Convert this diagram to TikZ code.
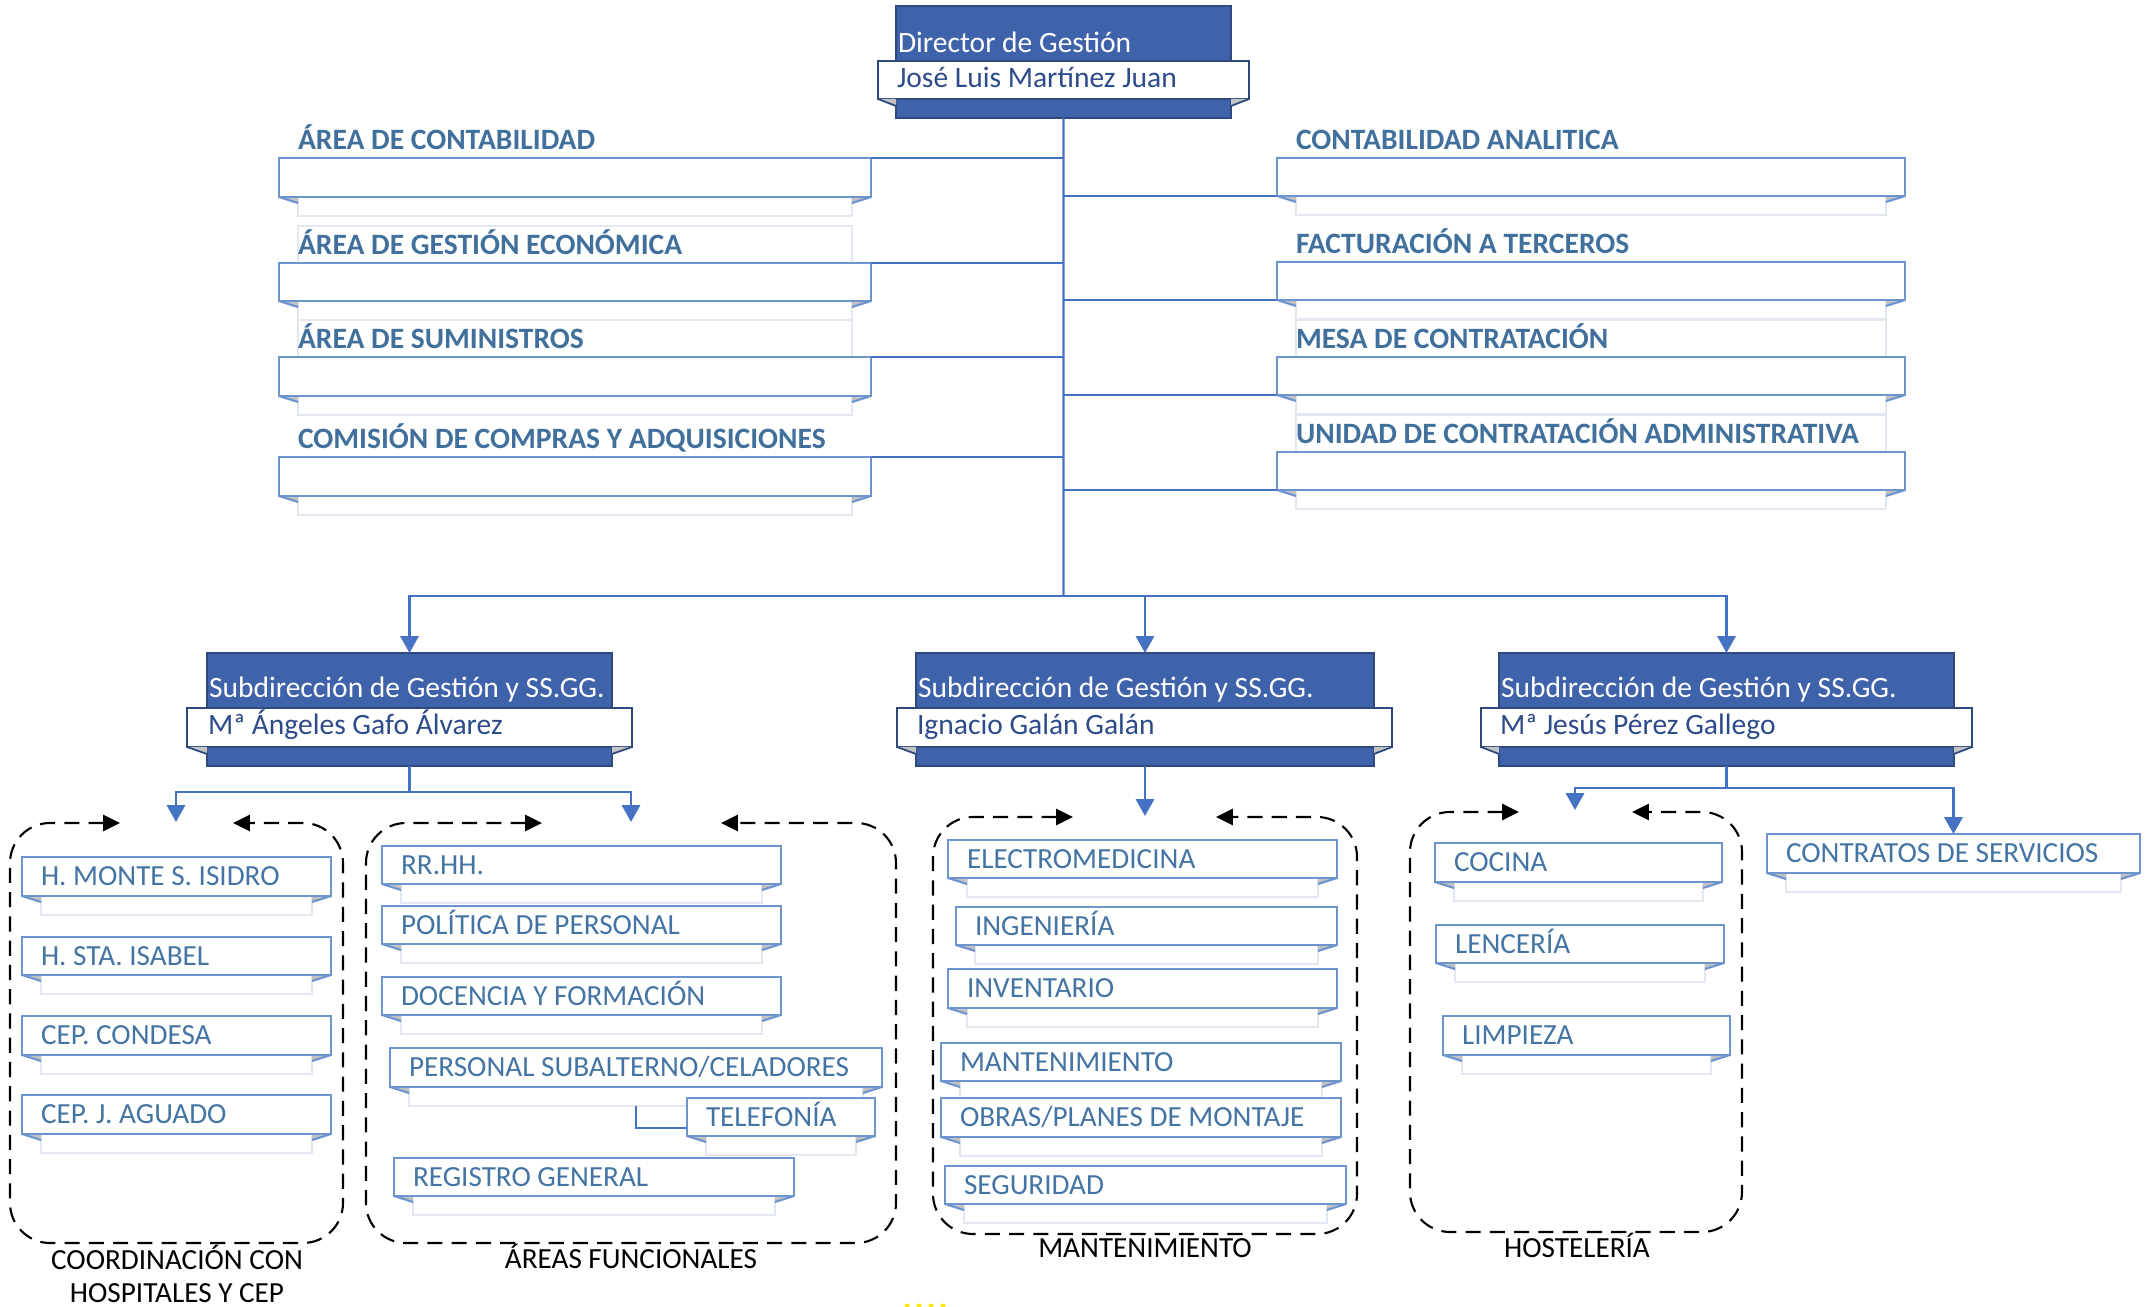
\documentclass[tikz,border=0pt]{standalone}
\usepackage{fontspec}
\setmainfont{Carlito}
\usepackage{tikz}
\usetikzlibrary{arrows.meta}

\definecolor{jefeazul}{RGB}{63,99,171}
\definecolor{jefeborde}{RGB}{47,72,125}
\definecolor{lineaazul}{RGB}{70,114,196}
\definecolor{cintaborde}{RGB}{110,148,207}
\definecolor{tiraborde}{RGB}{226,231,242}
\definecolor{rotulo}{RGB}{65,112,157}
\definecolor{itemtexto}{RGB}{68,116,163}
\definecolor{nombreazul}{RGB}{45,75,138}
\definecolor{pliegue}{RGB}{195,195,195}

\begin{document}
\begin{tikzpicture}[x=0.01cm, y=-0.01cm, inner sep=0pt, outer sep=0pt,
    link/.style={draw=lineaazul, line width=0.65pt},
    arr/.style={-{Triangle[length=4.8pt, width=5.2pt]}},
    grupo/.style={draw=black, line width=0.6pt, dash pattern=on 4.3pt off 2.6pt, rounded corners=0.4cm,
        {Triangle[length=4.8pt, width=4.6pt]}-{Triangle[length=4.8pt, width=4.6pt]}},
    cinta/.style={draw=cintaborde, fill=white, line width=0.6pt, anchor=north west},
    tira/.style={draw=tiraborde, fill=white, line width=0.5pt},
    pliegue/.style={fill=pliegue},
    jefe/.style={draw=jefeborde, fill=jefeazul, line width=0.5pt, anchor=north west},
    banda/.style={draw=jefeborde, fill=white, line width=0.6pt, anchor=north west},
    rotulo/.style={anchor=base west, text=rotulo, font=\bfseries\fontsize{8.4}{10}\selectfont},
    itemtexto/.style={anchor=base west, text=itemtexto, font=\fontsize{8.3}{10}\selectfont},
    titulo/.style={anchor=base west, text=white, font=\fontsize{8.4}{10}\selectfont},
    nombre/.style={anchor=base west, text=nombreazul, font=\fontsize{8.4}{10}\selectfont},
    pie/.style={anchor=base, text=black, font=\fontsize{8.3}{10}\selectfont}]

    \useasboundingbox (0,0) rectangle (2153,1307);

    % Director
    \node[jefe, minimum width=3.35cm, minimum height=1.12cm] (dir) at (896,6) {};
    \node[banda, minimum width=3.71cm, minimum height=0.38cm] (dir-b) at (878,61) {};
    \fill[pliegue] (878,99) -- (896,99) -- (896,106) -- cycle;
    \fill[pliegue] (1249,99) -- (1231,99) -- (1231,106) -- cycle;
    \draw[jefeborde, line width=0.5pt] (878,99) -- (896,106) (1249,99) -- (1231,106);
    \node[titulo] (dir-t) at (898,53) {Director de Gestión};
    \node[nombre] (dir-n) at (897,88) {José Luis Martínez Juan};

    % areas
    \foreach \xa/\ya/\xb in {279/263/871, 279/357/871, 1277/357/1905, 1277/452/1905} {
        \draw[tira] (\xa+19,\ya-37) rectangle (\xb-19,\ya);
    }
    \foreach \n/\xa/\ya/\xb/\yb/\t in {contab/279/158/871/197/{ÁREA DE CONTABILIDAD},
        gestec/279/263/871/301/{ÁREA DE GESTIÓN ECONÓMICA},
        sumin/279/357/871/396/{ÁREA DE SUMINISTROS},
        compras/279/457/871/496/{COMISIÓN DE COMPRAS Y ADQUISICIONES},
        analit/1277/158/1905/196/{CONTABILIDAD ANALITICA},
        factur/1277/262/1905/300/{FACTURACIÓN A TERCEROS},
        mesa/1277/357/1905/395/{MESA DE CONTRATACIÓN},
        unidad/1277/452/1905/490/{UNIDAD DE CONTRATACIÓN ADMINISTRATIVA}} {
        \draw[tira] (\xa+19,\yb) rectangle (\xb-19,\yb+19);
        \fill[pliegue] (\xa,\yb) -- (\xa+19,\yb) -- (\xa+19,\yb+6) -- cycle;
        \fill[pliegue] (\xb,\yb) -- (\xb-19,\yb) -- (\xb-19,\yb+6) -- cycle;
        \draw[cintaborde, line width=0.6pt] (\xa,\yb) -- (\xa+19,\yb+6) (\xb,\yb) -- (\xb-19,\yb+6);
        \node[cinta, minimum width={(\xb-\xa)*0.01cm}, minimum height={(\yb-\ya)*0.01cm}] (\n) at (\xa,\ya) {};
        \node[rotulo] (\n-t) at ([xshift=0.19cm, yshift=0.08cm]\n.north west) {\t};
    }

    \coordinate (trunk) at (1063.5,596);
    \draw[link] (dir) -- (trunk);
    \foreach \n in {contab, gestec, sumin, compras} {
        \draw[link] (\n.north east) -- (\n.north east -| trunk);
    }
    \foreach \n in {analit, factur, mesa, unidad} {
        \draw[link] (\n.south west) -- (\n.south west -| trunk);
    }

    % subdirecciones
    \foreach \n/\xa/\xb/\bxa/\bxb/\nm in {sub1/207/612/187/632/{Mª Ángeles Gafo Álvarez},
        sub2/916/1374/897/1392/{Ignacio Galán Galán},
        sub3/1499/1954/1481/1972/{Mª Jesús Pérez Gallego}} {
        \node[jefe, minimum width={(\xb-\xa)*0.01cm}, minimum height=1.13cm] (\n) at (\xa,653) {};
        \node[banda, minimum width={(\bxb-\bxa)*0.01cm}, minimum height=0.39cm] (\n-b) at (\bxa,708) {};
        \fill[pliegue] (\bxa,747) -- (\xa,747) -- (\xa,754) -- cycle;
        \fill[pliegue] (\bxb,747) -- (\xb,747) -- (\xb,754) -- cycle;
        \draw[jefeborde, line width=0.5pt] (\bxa,747) -- (\xa,754) (\bxb,747) -- (\xb,754);
        \node[titulo] (\n-t) at (\xa+2,698) {Subdirección de Gestión y SS.GG.};
        \node[nombre] (\n-n) at (\xa+1,735) {\nm};
    }
    \foreach \n in {sub1, sub2, sub3} {
        \draw[link, arr] (trunk) -| (\n);
    }

    % grupos
    \foreach \ta/\xa/\ya/\xb/\yb/\tb in {120/10/823/343/1243/233, 542/366/823/896/1243/721,
        1073/933/817/1357/1234/1216, 1519/1410/812/1742/1232/1632} {
        \draw[grupo] (\ta,\ya) -- (\xa,\ya) -- (\xa,\yb) -- (\xb,\yb) -- (\xb,\ya) -- (\tb,\ya);
    }

    \foreach \n/\xa/\ya/\xb/\yb/\t in {monte/22/857/331/896/{H. MONTE S. ISIDRO},
        isabel/22/937/331/975/{H. STA. ISABEL},
        condesa/22/1016/331/1055/{CEP. CONDESA},
        aguado/22/1095/331/1134/{CEP. J. AGUADO},
        rrhh/382/846/781/884/{RR.HH.},
        politica/382/906/781/944/{POLÍTICA DE PERSONAL},
        docencia/382/977/781/1015/{DOCENCIA Y FORMACIÓN},
        subalt/390/1048/882/1087/{PERSONAL SUBALTERNO/CELADORES},
        telef/687/1098/875/1136/{TELEFONÍA},
        registro/394/1158/794/1196/{REGISTRO GENERAL},
        electro/948/840/1337/878/{ELECTROMEDICINA},
        ingen/956/907/1337/945/{INGENIERÍA},
        invent/948/969/1337/1008/{INVENTARIO},
        mant/941/1043/1341/1081/{MANTENIMIENTO},
        obras/941/1098/1341/1137/{OBRAS/PLANES DE MONTAJE},
        segur/945/1166/1346/1204/{SEGURIDAD},
        cocina/1435/843/1722/882/{COCINA},
        lenceria/1436/925/1724/963/{LENCERÍA},
        limpieza/1443/1016/1730/1055/{LIMPIEZA},
        contratos/1767/834/2140/873/{CONTRATOS DE SERVICIOS}} {
        \draw[tira] (\xa+19,\yb) rectangle (\xb-19,\yb+19);
        \fill[pliegue] (\xa,\yb) -- (\xa+19,\yb) -- (\xa+19,\yb+6) -- cycle;
        \fill[pliegue] (\xb,\yb) -- (\xb-19,\yb) -- (\xb-19,\yb+6) -- cycle;
        \draw[cintaborde, line width=0.6pt] (\xa,\yb) -- (\xa+19,\yb+6) (\xb,\yb) -- (\xb-19,\yb+6);
        \node[cinta, minimum width={(\xb-\xa)*0.01cm}, minimum height={(\yb-\ya)*0.01cm}] (\n) at (\xa,\ya) {};
        \node[itemtexto] (\n-t) at ([xshift=0.19cm, yshift=-0.094cm]\n.west) {\t};
    }

    % conexiones de las subdirecciones
    \coordinate (sub1-j) at (409.5,792);
    \coordinate (g1-in) at (176,822);
    \coordinate (g2-in) at (631,822);
    \coordinate (g3-in) at (1145,816);
    \coordinate (sub3-j) at (1726.5,788);
    \coordinate (g4-in) at (1575,810);
    \coordinate (subalt-s) at (636,1106);
    \draw[link] (sub1) -- (sub1-j);
    \draw[link, arr] (sub1-j) -| (g1-in);
    \draw[link, arr] (sub1-j) -| (g2-in);
    \draw[link, arr] (sub2) -- (g3-in);
    \draw[link] (sub3) -- (sub3-j);
    \draw[link, arr] (sub3-j) -| (g4-in);
    \draw[link, arr] (sub3-j) -| (contratos);
    \draw[link] (subalt-s) |- ([yshift=-0.11cm]telef.west);

    \node[pie] (g1-pie) at (177,1270) {COORDINACIÓN CON};
    \node[pie] (g1-pie2) at (177,1303) {HOSPITALES Y CEP};
    \node[pie] (g2-pie) at (631,1269) {ÁREAS FUNCIONALES};
    \node[pie] (g3-pie) at (1145,1258) {MANTENIMIENTO};
    \node[pie] (g4-pie) at (1577,1258) {HOSTELERÍA};

    \foreach \x in {907, 919, 931, 943} {
        \fill[yellow!90!orange] (\x,1306) circle (2.5);
    }
\end{tikzpicture}
\end{document}
